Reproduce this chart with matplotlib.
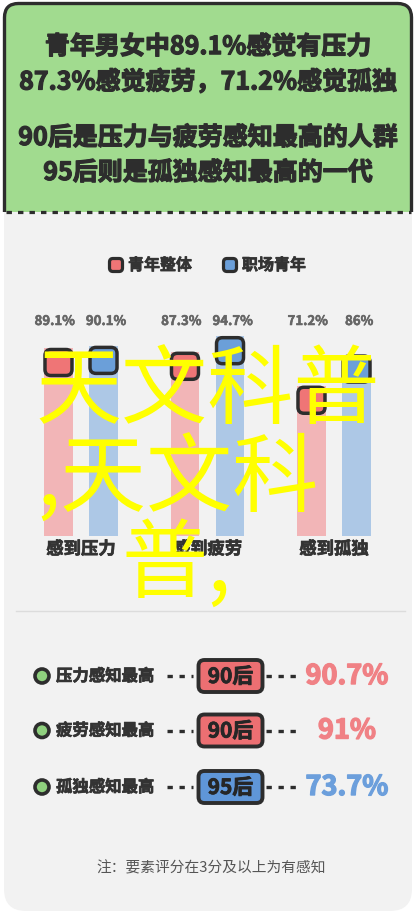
import matplotlib
matplotlib.use("Agg")
import matplotlib.pyplot as plt
from matplotlib.patches import FancyBboxPatch, Rectangle, Circle
import matplotlib.patheffects as pe
import numpy as np

plt.rcParams['font.family'] = ['Noto Sans CJK SC', 'DejaVu Sans']

# data
categories = ['感到压力', '感到疲劳', '感到孤独']
series_names = ['青年整体', '职场青年']
youth_all = [89.1, 87.3, 71.2]
youth_work = [90.1, 94.7, 86.0]
labels_all = ['89.1%', '87.3%', '71.2%']
labels_work = ['90.1%', '94.7%', '86%']

headline = ['青年男女中89.1%感觉有压力',
            '87.3%感觉疲劳，71.2%感觉孤独',
            '90后是压力与疲劳感知最高的人群',
            '95后则是孤独感知最高的一代']
peak_labels = ['压力感知最高', '疲劳感知最高', '孤独感知最高']
peak_groups = ['90后', '90后', '95后']
peak_values = ['90.7%', '91%', '73.7%']
peak_series = [0, 0, 1]
note = '注：要素评分在3分及以上为有感知'
watermark = ['天文科普', ',天文科', '普,']

DARK = '#2d2d2d'
GREEN = '#a1db8f'
CARD = '#f2f2f2'
CAP = ['#ef7576', '#6b9fd9']
BAR = ['#f2b5b7', '#adc8e6']
BOX = ['#ec6f72', '#5f96d8']
BIG = ['#f08185', '#6c9fdc']


def heavy(color, w=0.7):
    # thicken bold glyphs a bit
    return [pe.withStroke(linewidth=w, foreground=color)]


W, H = 416, 920
fig = plt.figure(figsize=(W / 100, H / 100), dpi=100)
fig.patch.set_facecolor('white')

bg = fig.add_axes([0, 0, 1, 1])
bg.set_xlim(0, W)
bg.set_ylim(H, 0)
bg.axis('off')

# grey card + green header
bg.add_patch(FancyBboxPatch((4, 150), 408, 762, boxstyle='round,pad=0,rounding_size=22',
                            fc=CARD, ec='none', zorder=1))
head = FancyBboxPatch((4.5, 4.5), 407, 260, boxstyle='round,pad=0,rounding_size=14',
                      fc=GREEN, ec=DARK, lw=2.4, zorder=2)
bg.add_patch(head)
head.set_clip_path(Rectangle((0, 0), W, 213, transform=bg.transData))
bg.plot([6, 411], [213, 213], color=DARK, lw=2.3, dashes=(1.7, 1.9), zorder=3)

for txt, y in zip(headline, [48, 83, 139, 174]):
    bg.text(208, y, txt, ha='center', va='center', fontsize=18, fontweight='bold',
            color=DARK, zorder=4, path_effects=heavy(DARK, 0.9))

# legend
for i, (xm, xt) in enumerate([(116, 128), (230, 242)]):
    bg.add_patch(FancyBboxPatch((xm - 6.5, 266 - 6.5), 13, 13,
                                boxstyle='round,pad=0,rounding_size=3.5',
                                fc=CAP[i], ec=DARK, lw=2.3, zorder=4))
    bg.text(xt, 266, series_names[i], ha='left', va='center', fontsize=11.5,
            fontweight='bold', color='#333333', zorder=4, path_effects=heavy('#333333', 0.5))

bg.plot([16, 405], [612, 612], color='#dcdcdc', lw=1, zorder=3)

# bar chart
scale = 2.11          # px per percent
base_px = 537
unit = 126.5          # px per category
ax = fig.add_axes([(81 - unit / 2) / W, (H - base_px) / H, 3 * unit / W, 100 * scale / H])
ax.set_xlim(-0.5, 2.5)
ax.set_ylim(0, 100)
ax.patch.set_alpha(0)
for s in ax.spines.values():
    s.set_visible(False)
ax.set_yticks([])
x = np.arange(len(categories))
off = 0.178
bw = 0.225
bars_all = ax.bar(x - off, youth_all, bw, color=BAR[0], zorder=2)
bars_work = ax.bar(x + off, youth_work, bw, color=BAR[1], zorder=2)
ax.set_xticks(x, categories)
ax.tick_params(axis='x', length=0, pad=3)
for t in ax.get_xticklabels():
    t.set_fontsize(12.5)
    t.set_fontweight('bold')
    t.set_color('#333333')
    t.set_path_effects(heavy('#333333', 0.5))

caps_ax = fig.add_axes([0, 0, 1, 1], zorder=3)
caps_ax.set_xlim(0, W)
caps_ax.set_ylim(H, 0)
caps_ax.axis('off')

to_px = caps_ax.transData.inverted()
for k, (bars, labs) in enumerate([(bars_all, labels_all), (bars_work, labels_work)]):
    for b, lab in zip(bars, labs):
        cx = b.get_x() + b.get_width() / 2
        px, py = to_px.transform(ax.transData.transform((cx, b.get_height())))
        caps_ax.add_patch(FancyBboxPatch((px - 13.5, py + 1.5), 27, 26,
                                         boxstyle='round,pad=0,rounding_size=6',
                                         fc=CAP[k], ec=DARK, lw=2.5))
        nudge = -0.03 if k == 0 else 0.02
        ax.text(cx + nudge, (base_px - 322) / scale, lab, ha='center', va='center',
                fontsize=9.5, fontweight='bold', color='#666666', clip_on=False,
                path_effects=heavy('#666666', 0.4))

# peak rows
for i, y in enumerate([677, 731.5, 788]):
    bg.add_patch(Circle((42, y), 7, fc='#8fd07e', ec=DARK, lw=2.6, zorder=4))
    bg.text(56, y, peak_labels[i], ha='left', va='center', fontsize=11.8,
            fontweight='bold', color='#333333', zorder=4, path_effects=heavy('#333333', 0.5))
    bg.plot([166.5, 193], [y, y], color=DARK, lw=2.4, dashes=(1.6, 2.0), zorder=4)
    bg.plot([266, 298], [y, y], color=DARK, lw=2.4, dashes=(1.6, 2.0), zorder=4)
    bg.add_patch(FancyBboxPatch((198.5, y - 16), 64, 32,
                                boxstyle='round,pad=0,rounding_size=6',
                                fc=BOX[peak_series[i]], ec=DARK, lw=2.8, zorder=4))
    bg.text(230.5, y + 0.5, peak_groups[i], ha='center', va='center', fontsize=15,
            fontweight='bold', color='#262626', zorder=5, path_effects=heavy('#262626', 0.6))
    c = BIG[peak_series[i]]
    bg.text(347, y, peak_values[i], ha='center', va='center', fontsize=19.5,
            fontweight='bold', color=c, zorder=5, path_effects=heavy(c, 1.0))

bg.text(211, 868, note, ha='center', va='center', fontsize=10.6, color='#555555', zorder=4)

# watermark overlay
wm = fig.add_axes([0, 0, 1, 1], zorder=10)
wm.set_xlim(0, W)
wm.set_ylim(H, 0)
wm.axis('off')
for txt, (xw, yw) in zip(watermark, [(35, 417), (36, 506), (122, 591)]):
    wm.text(xw, yw, txt, ha='left', va='baseline', fontsize=62, color='#ffff00')

fig.savefig('out.png', dpi=100, facecolor=fig.get_facecolor())
